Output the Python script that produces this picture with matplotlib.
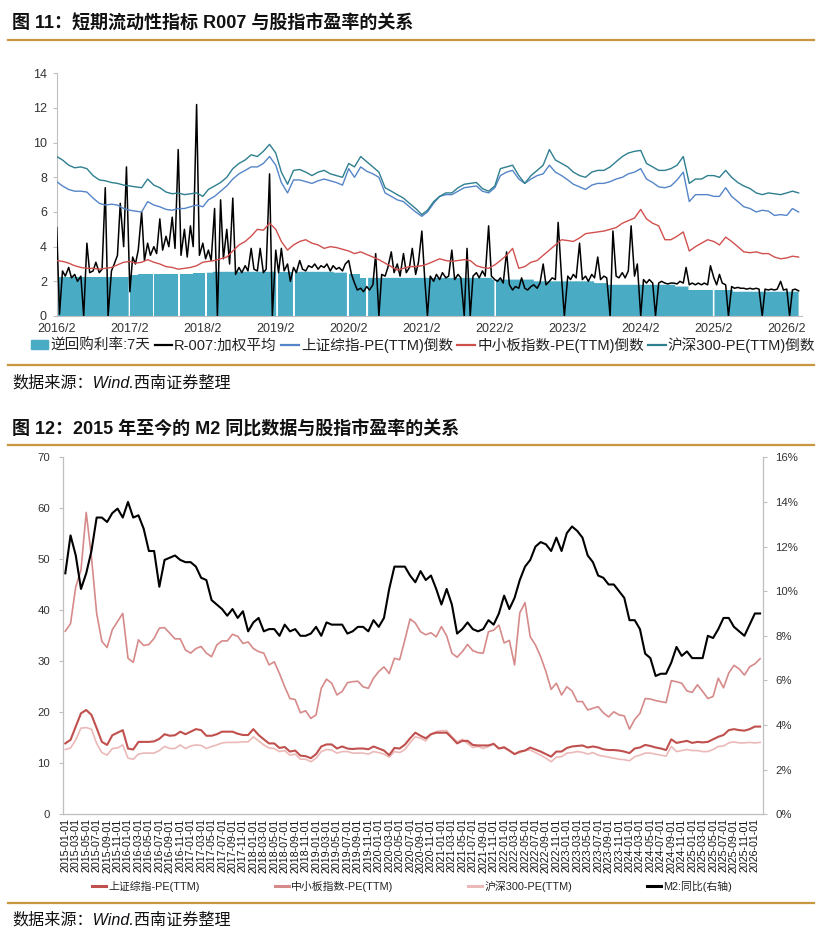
import numpy as np
import pandas as pd
import matplotlib
matplotlib.use('Agg')
import matplotlib.pyplot as plt
import matplotlib.patches as mpatches
from matplotlib.lines import Line2D
from matplotlib.ticker import FuncFormatter

plt.rcParams['font.family'] = ['Liberation Sans', 'Noto Sans CJK SC']
plt.rcParams['axes.unicode_minus'] = False

# ── chart 11 data ─────────────────────────────────────────────────────────────
# 7-day reverse repo rate: step changes
repo_change_dates = ['2016-02-01', '2017-02-03', '2017-03-16', '2017-12-14', '2018-03-23',
                     '2019-11-18', '2020-02-03', '2020-03-30', '2022-01-17', '2022-08-15',
                     '2023-06-13', '2023-08-15', '2024-07-22', '2024-09-27', '2025-05-08']
repo_rates = [2.25, 2.35, 2.45, 2.50, 2.55, 2.50, 2.40, 2.20, 2.10, 2.00,
              1.90, 1.80, 1.70, 1.50, 1.40]
repo_end = '2026-04-01'
# holidays without operations (white gaps in the bars)
repo_gap_dates = ['2017-01-27', '2017-05-28', '2017-10-01', '2018-02-15', '2019-02-04',
                  '2019-05-01', '2020-01-24', '2020-05-01', '2022-01-31', '2025-01-28']

# R-007 weighted average, semi-monthly from 2016-02
r007 = [5.1, 0.1, 2.6, 2.3, 2.8, 2.2, 2.4, 2.0, 2.3, 0.0, 4.2, 2.5, 2.6, 3.1, 2.5, 2.7, 7.4, 0.0, 2.6, 3.0, 3.5, 6.5, 4.0, 8.6,
        1.4, 3.4, 3.0, 3.8, 6.0, 3.2, 4.2, 3.5, 4.0, 3.6, 5.6, 3.8, 4.6, 4.0, 5.7, 3.9, 9.6, 3.5, 5.0, 3.4, 5.2, 4.0, 12.2, 3.5,
        4.2, 3.3, 3.8, 3.2, 6.2, 0.0, 6.7, 3.3, 5.0, 3.0, 6.8, 2.4, 2.8, 2.5, 2.9, 2.6, 3.9, 2.7, 2.6, 3.9, 2.5, 2.7, 8.2, 0.0,
        3.8, 2.5, 3.9, 2.6, 3.0, 2.0, 2.8, 2.5, 3.2, 2.7, 2.6, 2.9, 2.8, 3.0, 2.7, 2.9, 2.8, 3.0, 2.6, 2.9, 2.7, 2.8, 2.6, 3.0,
        3.2, 2.4, 1.9, 1.5, 1.6, 1.4, 1.7, 1.5, 1.8, 3.6, 0.0, 2.4, 2.3, 2.8, 3.7, 2.5, 3.0, 2.3, 3.6, 2.5, 2.8, 3.9, 2.4, 3.1,
        4.9, 2.2, 0.0, 2.3, 2.0, 2.4, 2.1, 2.5, 2.2, 2.3, 3.8, 2.1, 2.4, 2.2, 0.0, 3.9, 0.0, 2.3, 2.5, 2.2, 2.6, 2.3, 5.2, 2.3,
        2.1, 2.0, 2.2, 1.9, 3.7, 1.8, 1.5, 1.7, 1.6, 2.2, 1.6, 1.5, 1.7, 1.8, 1.6, 1.9, 3.0, 1.8, 2.0, 2.2, 2.1, 5.4, 2.2, 0.0,
        2.3, 2.1, 2.4, 2.2, 4.2, 2.1, 2.3, 2.0, 2.4, 2.2, 3.4, 2.1, 2.3, 2.2, 0.0, 4.9, 2.3, 2.2, 2.5, 2.2, 2.6, 5.2, 2.3, 3.0,
        0.0, 2.1, 1.9, 2.1, 1.9, 0.0, 1.9, 2.0, 1.9, 1.85, 1.9, 1.9, 1.85, 2.0, 1.9, 2.8, 1.8, 1.9, 1.8, 1.9, 1.8, 1.9, 1.8, 2.9,
        2.2, 1.8, 2.4, 1.9, 1.8, 0.0, 1.7, 1.6, 1.65, 1.6, 1.6, 1.55, 1.6, 1.55, 1.6, 1.55, 0.0, 1.55, 1.5, 1.55, 1.5, 1.55, 2.0, 1.5,
        1.55, 0.0, 1.5, 1.55, 1.45]
r007_dates = pd.date_range('2016-02-01', periods=len(r007), freq='SMS')

# PE(TTM) reciprocals (%), monthly from 2016-02
sh_inv = [7.75, 7.5, 7.3, 7.2, 7.2, 7.15, 6.8, 6.5, 6.4, 6.45, 6.4, 6.2,
          6.1, 6.05, 6.0, 6.6, 6.4, 6.3, 6.15, 6.1, 6.2, 6.2, 6.3, 6.4,
          6.3, 6.7, 6.9, 7.2, 7.5, 7.9, 8.2, 8.4, 8.6, 8.6, 8.8, 9.2,
          8.7, 7.7, 7.1, 7.85, 7.85, 7.75, 7.65, 7.8, 7.9, 7.8, 7.7, 7.55,
          8.5, 8.0, 8.6, 8.35, 8.2, 8.0, 7.1, 6.9, 6.7, 6.6, 6.3, 6.0,
          5.75, 6.0, 6.5, 6.9, 7.0, 7.0, 7.2, 7.4, 7.45, 7.5, 7.2, 7.1,
          7.4, 8.1, 8.3, 8.4, 7.9, 7.65, 7.9, 8.1, 8.2, 8.7, 8.3, 8.1,
          7.85, 7.6, 7.45, 7.3, 7.55, 7.65, 7.65, 7.75, 7.9, 8.0, 8.2, 8.3,
          8.5, 7.9, 7.7, 7.45, 7.4, 7.5, 7.85, 8.3, 6.6, 7.0, 7.0, 7.0,
          6.9, 6.9, 7.4, 6.9, 6.6, 6.3, 6.2, 6.0, 6.1, 6.05, 5.8, 5.85,
          5.8, 6.2, 6.0]
sme_inv = [3.2, 3.15, 3.05, 2.9, 2.8, 2.75, 2.75, 2.7, 2.75, 2.8, 2.95, 3.1,
           3.15, 3.05, 3.1, 3.25, 3.1, 3.0, 2.85, 2.8, 2.7, 2.75, 2.8, 2.9,
           3.1, 3.15, 3.2, 3.3, 3.4, 3.75, 4.1, 4.3, 4.6, 5.0, 4.95, 5.35,
           5.0, 4.3, 3.8, 4.1, 4.3, 4.4, 4.2, 4.1, 3.9, 4.0, 3.95, 3.85,
           3.75, 3.6, 3.7, 3.55, 3.4, 3.25, 3.05, 2.85, 2.65, 2.75, 2.85, 2.85,
           2.9, 3.0, 3.15, 3.3, 3.2, 3.15, 3.2, 3.25, 3.2, 2.9, 2.8, 2.75,
           2.95, 3.2, 3.5, 3.9, 2.75, 2.85, 3.1, 3.2, 3.5, 3.8, 4.1, 4.4,
           4.35, 4.3, 4.5, 4.75, 4.8, 4.85, 4.9, 5.0, 5.1, 5.35, 5.5, 5.65,
           6.15, 5.6, 5.35, 5.2, 4.4, 4.4, 4.6, 4.85, 3.75, 4.0, 4.2, 4.4,
           4.3, 4.1, 4.55, 4.3, 4.0, 3.7, 3.65, 3.7, 3.6, 3.6, 3.4, 3.3,
           3.35, 3.45, 3.4]
hs300_inv = [9.2, 9.0, 8.7, 8.55, 8.6, 8.5, 8.1, 7.85, 7.8, 7.7, 7.65, 7.55,
             7.5, 7.45, 7.4, 7.9, 7.55, 7.4, 7.15, 7.05, 7.1, 7.0, 7.05, 7.1,
             6.9, 7.3, 7.5, 7.7, 8.0, 8.5, 8.8, 9.0, 9.3, 9.2, 9.5, 9.9,
             9.4, 8.3, 7.6, 8.4, 8.45, 8.3, 8.1, 8.3, 8.4, 8.2, 8.1, 8.0,
             8.8, 8.6, 9.2, 8.9, 8.6, 8.3, 7.4, 7.2, 7.0, 6.8, 6.5, 6.2,
             5.85, 6.1, 6.6, 6.9, 7.1, 7.1, 7.4, 7.6, 7.65, 7.7, 7.35, 7.2,
             7.5, 8.5, 8.6, 8.7, 8.1, 7.65, 8.1, 8.4, 8.7, 9.6, 9.0, 8.8,
             8.6, 8.3, 8.1, 8.0, 8.3, 8.4, 8.4, 8.6, 8.9, 9.2, 9.4, 9.5,
             9.55, 8.8, 8.6, 8.4, 8.4, 8.5, 8.7, 9.2, 7.65, 7.9, 7.9, 8.1,
             8.1, 8.0, 8.4, 8.0, 7.7, 7.5, 7.35, 7.1, 7.0, 7.1, 7.05, 7.0,
             7.1, 7.2, 7.1]
pe_dates = pd.date_range('2016-02-01', periods=len(sh_inv), freq='MS')

top_tick_years = list(range(2016, 2027))

# ── chart 12 data ─────────────────────────────────────────────────────────────
m2_months = pd.date_range('2015-01-01', '2026-02-01', freq='MS')
m2_yoy = [10.8, 12.5, 11.6, 10.1, 10.8, 11.8, 13.3, 13.3, 13.1, 13.5, 13.7, 13.3,
          14.0, 13.3, 13.4, 12.8, 11.8, 11.8, 10.2, 11.4, 11.5, 11.6, 11.4, 11.3,
          11.3, 11.1, 10.6, 10.5, 9.6, 9.4, 9.2, 8.9, 9.2, 8.8, 9.1, 8.2,
          8.6, 8.8, 8.2, 8.3, 8.3, 8.0, 8.5, 8.2, 8.3, 8.0, 8.0, 8.1,
          8.4, 8.0, 8.6, 8.5, 8.5, 8.5, 8.1, 8.2, 8.4, 8.4, 8.2, 8.7,
          8.4, 8.8, 10.1, 11.1, 11.1, 11.1, 10.7, 10.4, 10.9, 10.5, 10.7, 10.1,
          9.4, 10.1, 9.4, 8.1, 8.3, 8.6, 8.3, 8.2, 8.3, 8.7, 8.5, 9.0,
          9.8, 9.2, 9.7, 10.5, 11.1, 11.4, 12.0, 12.2, 12.1, 11.8, 12.4, 11.8,
          12.6, 12.9, 12.7, 12.4, 11.6, 11.3, 10.7, 10.6, 10.3, 10.3, 10.0, 9.7,
          8.7, 8.7, 8.3, 7.2, 7.0, 6.2, 6.3, 6.3, 6.8, 7.5, 7.1, 7.3,
          7.0, 7.0, 7.0, 8.0, 7.9, 8.3, 8.8, 8.8, 8.4, 8.2, 8.0, 8.5,
          9.0, 9.0]
sh_pe = [13.9, 14.6, 17.2, 19.8, 20.45, 19.5, 16.9, 14.2, 13.6, 15.5, 16.0, 16.5,
         12.9, 12.7, 14.2, 14.2, 14.2, 14.3, 14.8, 15.7, 15.4, 15.5, 16.2, 15.7,
         16.2, 16.7, 16.5, 15.4, 15.4, 15.7, 16.2, 16.2, 16.2, 15.8, 15.55, 15.55,
         16.7, 15.55, 14.7, 13.9, 13.9, 13.0, 13.2, 12.3, 12.5, 11.5, 11.4, 11.0,
         11.8, 13.3, 13.7, 13.7, 12.9, 13.3, 12.9, 12.8, 12.9, 12.9, 12.75, 13.3,
         12.9, 12.5, 11.6, 13.0, 12.9, 13.65, 14.9, 16.0, 15.4, 14.9, 15.7, 16.0,
         16.0, 16.0, 15.0, 13.9, 14.4, 14.4, 13.6, 13.5, 13.5, 13.5, 13.8, 12.9,
         13.1, 12.5, 11.8, 12.3, 12.5, 13.1, 12.7, 12.3, 11.8, 11.3, 12.3, 12.3,
         13.0, 13.3, 13.4, 13.5, 13.1, 13.3, 13.1, 12.75, 12.6, 12.6, 12.5, 12.3,
         12.0, 12.9, 13.1, 13.6, 13.4, 13.1, 12.9, 12.6, 14.7, 14.0, 14.2, 14.4,
         14.0, 14.2, 14.1, 14.2, 14.7, 15.2, 15.55, 16.5, 16.7, 16.5, 16.4, 16.7,
         17.2, 17.2]
sme_pe = [35.9, 37.4, 44.6, 47.9, 59.2, 50.5, 39.4, 33.9, 32.7, 36.2, 37.8, 39.4,
          30.6, 29.8, 34.2, 33.1, 33.3, 34.5, 36.5, 36.6, 35.5, 34.4, 34.4, 32.2,
          31.6, 32.5, 32.9, 31.6, 30.9, 33.2, 34.0, 34.0, 35.3, 34.9, 33.5, 33.8,
          32.5, 31.9, 31.6, 29.3, 29.9, 27.6, 25.0, 22.7, 22.5, 19.9, 20.3, 18.8,
          19.5, 24.7, 26.5, 25.7, 23.4, 24.1, 25.8, 26.0, 26.1, 25.0, 24.7, 26.7,
          28.0, 28.9, 27.6, 30.6, 30.3, 34.2, 38.3, 37.5, 35.8, 35.2, 35.6, 34.8,
          36.8, 35.0, 31.6, 30.8, 31.9, 33.3, 32.1, 31.7, 31.6, 35.8, 36.1, 37.1,
          33.6, 34.1, 29.3, 39.5, 41.5, 34.8, 33.2, 30.9, 28.0, 24.5, 25.7, 23.4,
          25.0, 24.2, 22.1, 22.1, 20.45, 20.8, 21.1, 19.9, 19.1, 20.1, 19.5, 19.3,
          16.7, 18.6, 19.8, 22.7, 22.6, 22.3, 22.1, 21.9, 26.2, 26.0, 25.7, 24.2,
          23.9, 25.4, 24.1, 22.7, 23.1, 26.7, 24.8, 27.7, 29.2, 28.5, 27.3, 28.9,
          29.5, 30.5]
hs300_pe = [12.7, 13.0, 14.6, 16.9, 17.0, 16.7, 13.9, 12.1, 11.6, 12.9, 13.0, 13.6,
            11.0, 10.8, 11.8, 12.0, 12.0, 12.0, 12.5, 13.3, 12.9, 12.9, 13.6, 12.9,
            13.4, 13.6, 13.5, 12.9, 13.3, 13.6, 14.0, 14.1, 14.1, 14.1, 14.2, 14.2,
            15.2, 14.4, 13.6, 13.0, 12.9, 12.3, 12.5, 11.6, 11.8, 10.8, 10.8, 10.3,
            11.0, 12.3, 12.7, 12.6, 12.0, 12.3, 12.3, 12.0, 12.0, 12.0, 11.8, 12.3,
            12.1, 11.8, 11.2, 12.3, 12.1, 12.7, 14.05, 15.2, 14.9, 14.4, 15.7, 16.2,
            16.4, 16.4, 15.2, 14.2, 14.7, 13.9, 13.1, 13.3, 12.9, 13.3, 13.9, 12.9,
            13.3, 12.5, 11.8, 12.1, 12.5, 12.6, 12.1, 11.6, 11.0, 10.3, 11.2, 11.3,
            12.0, 12.1, 12.3, 12.15, 11.8, 12.1, 11.6, 11.4, 11.2, 11.0, 10.8, 10.7,
            10.5, 11.3, 11.6, 12.0, 12.0, 11.8, 11.6, 11.4, 13.3, 12.3, 12.5, 12.7,
            12.5, 12.5, 12.3, 12.3, 12.7, 13.3, 13.4, 14.0, 14.2, 14.0, 14.0, 14.1,
            14.0, 14.1]

# ── styling ───────────────────────────────────────────────────────────────────
GOLD = '#c8963e'
TICK = '#333333'
SPINE = '#bfbfbf'

C_REPO = '#4aabc5'
C_SH_INV = '#5585c8'
C_SME_INV = '#d0504e'
C_HS_INV = '#2e7f8f'

C_SH = '#c0504d'
C_SME = '#d68a8a'
C_HS = '#ebb9b8'

fig = plt.figure(figsize=(8.19, 9.41), dpi=100)
H = 941.0
W = 819.0


def fy(px):
    return 1 - px / H


def fx(px):
    return px / W


# titles, rules, sources
fig.text(fx(12), fy(23), '图 11：短期流动性指标 R007 与股指市盈率的关系',
         fontsize=13, fontweight='bold', va='center', ha='left', color='#111111')
fig.text(fx(12), fy(430), '图 12：2015 年至今的 M2 同比数据与股指市盈率的关系',
         fontsize=13, fontweight='bold', va='center', ha='left', color='#111111')
for yy in (40, 365, 445, 903):
    fig.add_artist(Line2D([fx(8), fx(814)], [fy(yy), fy(yy)], color=GOLD, lw=1.6))
for yy in (383, 920):
    fig.text(fx(12), fy(yy), '数据来源：Wind.西南证券整理', fontsize=11.6, style='italic',
             va='center', ha='left', color='#111111')

# ── chart 11 ──────────────────────────────────────────────────────────────────
ax1 = fig.add_axes([fx(56.7), fy(316), fx(802) - fx(56.7), (316 - 73.3) / H])

days = pd.date_range(repo_change_dates[0], repo_end, freq='D')
repo = pd.Series(repo_rates, index=pd.to_datetime(repo_change_dates)).reindex(days, method='ffill')
for g in repo_gap_dates:
    g = pd.Timestamp(g)
    repo[g:g + pd.Timedelta(days=6)] = np.nan
ax1.fill_between(days, 0, repo.values, step='post', color=C_REPO, linewidth=0, zorder=1)

ax1.plot(r007_dates, r007, color='black', lw=1.1, zorder=3)
ax1.plot(pe_dates, sh_inv, color=C_SH_INV, lw=1.0, zorder=4)
ax1.plot(pe_dates, sme_inv, color=C_SME_INV, lw=1.0, zorder=4)
ax1.plot(pe_dates, hs300_inv, color=C_HS_INV, lw=1.0, zorder=5)

ax1.set_ylim(0, 14)
ax1.set_yticks(range(0, 15, 2))
ax1.set_xlim(pd.Timestamp('2016-02-01'), pd.Timestamp('2026-04-18'))
ax1.set_xticks([pd.Timestamp(f'{y}-02-01') for y in top_tick_years])
ax1.set_xticklabels([f'{y}/2' for y in top_tick_years])
for s in ('top', 'right'):
    ax1.spines[s].set_visible(False)
for s in ('left', 'bottom'):
    ax1.spines[s].set_color(SPINE)
    ax1.spines[s].set_linewidth(0.8)
ax1.tick_params(axis='y', colors=SPINE, labelcolor=TICK, labelsize=9, length=3, width=0.8, pad=4)
ax1.tick_params(axis='x', length=0, labelcolor=TICK, labelsize=9, pad=5)

top_handles = [
    mpatches.Patch(color=C_REPO, label='逆回购利率:7天'),
    Line2D([0], [0], color='black', lw=1.6, label='R-007:加权平均'),
    Line2D([0], [0], color=C_SH_INV, lw=1.6, label='上证综指-PE(TTM)倒数'),
    Line2D([0], [0], color=C_SME_INV, lw=1.6, label='中小板指数-PE(TTM)倒数'),
    Line2D([0], [0], color=C_HS_INV, lw=1.6, label='沪深300-PE(TTM)倒数'),
]
fig.legend(handles=top_handles, loc='center', bbox_to_anchor=(fx(423), fy(345)),
           ncol=5, frameon=False, fontsize=10.5, handlelength=1.2, handleheight=0.6,
           handletextpad=0.15, columnspacing=0.3, borderpad=0, labelcolor='#222222')

# ── chart 12 ──────────────────────────────────────────────────────────────────
ax2 = fig.add_axes([fx(62.7), fy(814.3), 700 / W, (814.3 - 457.3) / H])
x = np.arange(len(m2_months))

ax2.plot(x, sme_pe, color=C_SME, lw=1.2, zorder=3)
ax2.plot(x, hs300_pe, color=C_HS, lw=1.2, zorder=3)
ax2.plot(x, sh_pe, color=C_SH, lw=1.5, zorder=4)

ax2.set_xlim(-0.5, len(x) - 0.5)
ax2.set_ylim(0, 70)
ax2.set_yticks(range(0, 71, 10))
ax2.set_xticks(x[::2])
ax2.set_xticklabels([d.strftime('%Y-%m-%d') for d in m2_months[::2]], rotation=90)

ax2r = ax2.twinx()
ax2r.plot(x, m2_yoy, color='black', lw=1.5, zorder=5)
ax2r.set_ylim(0, 16)
ax2r.set_yticks(range(0, 17, 2))
ax2r.yaxis.set_major_formatter(FuncFormatter(lambda v, p: f'{v:.0f}%'))

for a in (ax2, ax2r):
    a.spines['top'].set_visible(False)
    for s in ('left', 'right', 'bottom'):
        a.spines[s].set_color(SPINE)
        a.spines[s].set_linewidth(0.9)
ax2.spines['right'].set_visible(False)
ax2r.spines['left'].set_visible(False)
ax2r.spines['bottom'].set_visible(False)
ax2.tick_params(axis='y', colors=SPINE, labelcolor=TICK, labelsize=8.2, length=3, width=0.8, pad=6)
ax2r.tick_params(axis='y', colors=SPINE, labelcolor=TICK, labelsize=8.2, length=3, width=0.8, pad=6)
ax2.tick_params(axis='x', length=0, labelcolor='#111111', labelsize=7.7, pad=3)

bot_handles = [
    Line2D([0], [0], color=C_SH, lw=2.2, label='上证综指-PE(TTM)'),
    Line2D([0], [0], color=C_SME, lw=2.2, label='中小板指数-PE(TTM)'),
    Line2D([0], [0], color=C_HS, lw=2.2, label='沪深300-PE(TTM)'),
    Line2D([0], [0], color='black', lw=2.2, label='M2:同比(右轴)'),
]
fig.legend(handles=bot_handles, loc='center', bbox_to_anchor=(fx(412), fy(886)),
           ncol=4, frameon=False, fontsize=7.8, handlelength=1.3,
           handletextpad=0.2, columnspacing=6.9, borderpad=0, labelcolor='#222222')

plt.savefig('out.png', dpi=100, facecolor='white')
